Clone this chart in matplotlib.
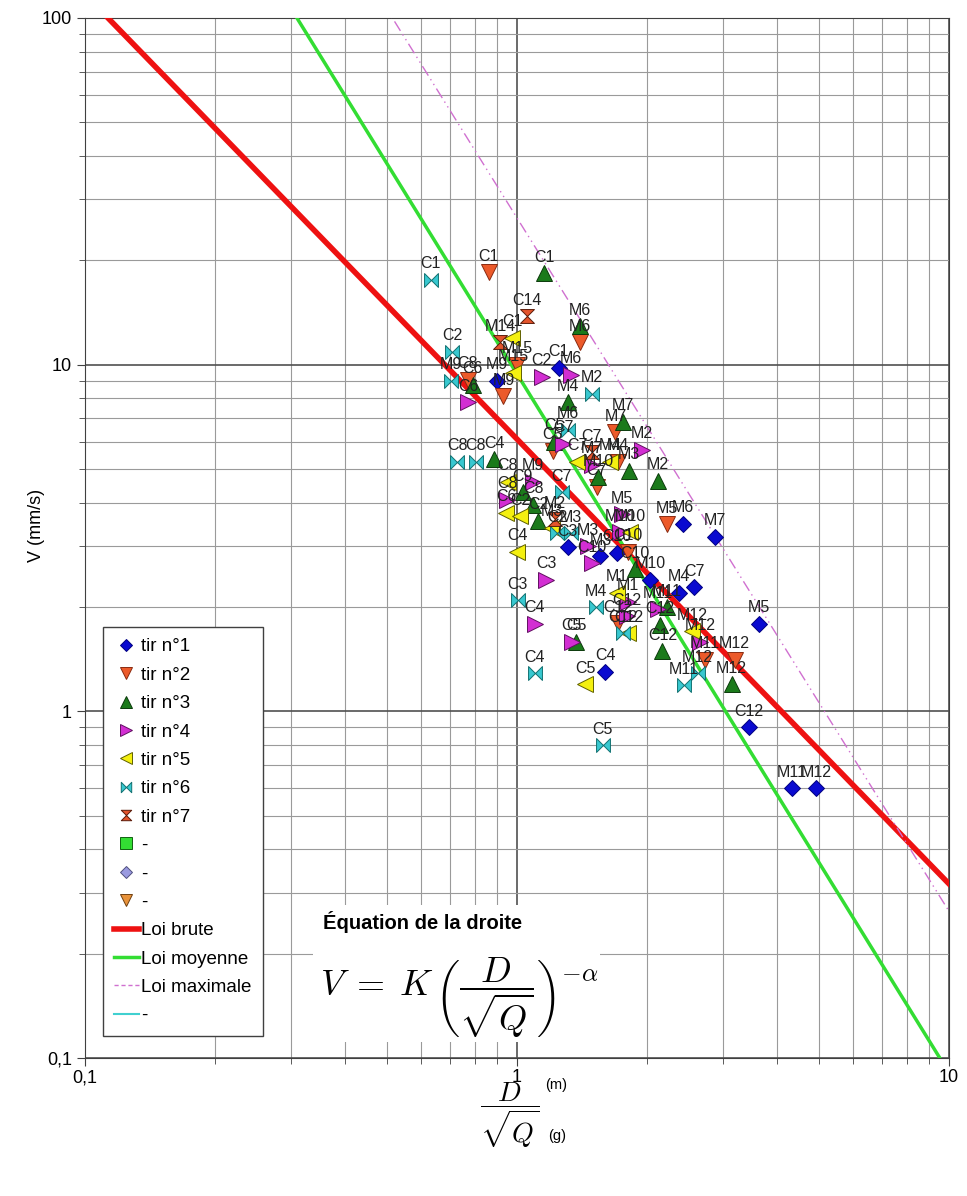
import matplotlib
matplotlib.use("Agg")
import matplotlib.pyplot as plt
import numpy as np
from matplotlib.path import Path
from matplotlib.lines import Line2D
from matplotlib.patches import Rectangle
from matplotlib.ticker import FixedLocator, FuncFormatter, LogLocator, NullFormatter

plt.rcParams['font.family'] = ['Liberation Sans', 'DejaVu Sans']
plt.rcParams['mathtext.fontset'] = 'cm'

# tir n°1 .. n°7 : distance réduite D/sqrt(Q) (m/g^0.5) et vitesse V (mm/s)
x1 = [1.25, 0.90, 1.31, 1.56, 1.70, 2.03, 2.37, 2.57, 2.42, 2.87, 3.63, 1.60, 3.44, 4.33, 4.92]
y1 = [9.8, 9.0, 2.97, 2.80, 2.87, 2.40, 2.20, 2.28, 3.48, 3.19, 1.79, 1.30, 0.90, 0.60, 0.60]
l1 = ['C1', 'M9', 'C3', 'M3', 'C10', 'M10', 'M4', 'C7', 'M6', 'M7', 'M5', 'C4', 'C12', 'M11', 'M12']

x2 = [0.86, 1.40, 0.77, 0.93, 1.00, 1.21, 1.69, 1.71, 1.53, 2.22, 1.81, 1.71, 2.72, 3.19]
y2 = [18.5, 11.6, 9.05, 8.1, 10.0, 5.65, 6.4, 5.25, 4.45, 3.46, 2.89, 1.80, 1.41, 1.41]
l2 = ['C1', 'M6', 'C8', 'M9', 'M15', 'C5', 'M7', 'M4', 'C7', 'M5', 'C10', 'C12', 'M11', 'M12']

x3 = [1.155, 1.40, 1.31, 1.76, 1.22, 0.885, 1.815, 2.12, 1.03, 1.09, 1.12, 1.875,
      2.22, 2.14, 2.17, 3.14, 1.37, 0.79, 1.54]
y3 = [18.4, 12.9, 7.8, 6.85, 6.0, 5.33, 4.95, 4.63, 4.28, 3.95, 3.55, 2.57,
      2.0, 1.78, 1.49, 1.20, 1.59, 8.76, 4.73]
l3 = ['C1', 'M6', 'M4', 'M7', 'C5', 'C4', 'M3', 'M2', 'C9', 'C8', 'C2', 'C10',
      'M11', 'C12', 'C12', 'M12', 'C5', 'C6', 'M10']

x4 = [0.77, 1.14, 1.33, 1.28, 1.95, 1.09, 0.95, 1.49, 1.75, 1.73, 1.46, 1.49,
      1.17, 1.10, 1.81, 1.80, 2.12, 2.65, 1.34]
y4 = [7.8, 9.24, 9.36, 5.92, 5.69, 4.6, 4.08, 5.15, 3.7, 3.28, 2.99, 2.68,
      2.40, 1.79, 2.07, 1.88, 1.97, 1.59, 1.59]
l4 = ['C6', 'C2', 'M6', 'C7', 'M2', 'M9', 'C8', 'M7', 'M5', 'M10', 'M3', 'C10',
      'C3', 'C4', 'M1', 'C12', 'M11', 'M12', 'C5']

x5 = [0.974, 0.979, 1.377, 1.64, 0.953, 0.943, 1.016, 1.205, 1.0, 1.70, 1.81, 2.54, 1.437, 1.83]
y5 = [11.96, 9.48, 5.25, 5.25, 4.6, 3.74, 3.65, 3.39, 2.89, 2.2, 1.68, 1.70, 1.20, 3.28]
l5 = ['C1', 'M15', 'C7', 'M4', 'C8', 'C6', 'C2', 'M3', 'C4', 'M1', 'C12', 'M12', 'C5', 'M10']

x6 = [0.632, 0.707, 0.703, 1.49, 1.313, 0.727, 0.803, 1.27, 1.237, 1.33, 1.005,
      1.524, 1.76, 1.10, 1.58, 2.43, 2.62]
y6 = [17.6, 10.9, 9.0, 8.25, 6.5, 5.25, 5.25, 4.28, 3.27, 3.27, 2.09,
      2.0, 1.68, 1.29, 0.80, 1.19, 1.29]
l6 = ['C1', 'C2', 'M9', 'M2', 'M6', 'C8', 'C8', 'C7', 'C2', 'M3', 'C3',
      'M4', 'C12', 'C4', 'C5', 'M11', 'M12']

x7 = [1.055, 0.913, 1.49, 1.225]
y7 = [13.8, 11.6, 5.6, 3.58]
l7 = ['C14', 'M14', 'C7', 'M2']

# lois V = K (D/sqrt(Q))^-alpha
K_brute, a_brute = 6.1, 1.283
K_moy, a_moy = 9.4, 2.016
K_max, a_max = 26.5, 2.0

bowtie = Path([(-1, -1), (-1, 1), (1, -1), (1, 1), (-1, -1)],
              [Path.MOVETO, Path.LINETO, Path.LINETO, Path.LINETO, Path.CLOSEPOLY])
hourglass = Path([(-1, 1), (1, 1), (-1, -1), (1, -1), (-1, 1)],
                 [Path.MOVETO, Path.LINETO, Path.LINETO, Path.LINETO, Path.CLOSEPOLY])

series = [
    ('tir n°1', x1, y1, l1, 'D', '#0a0ad0', '#000080', 8.5),
    ('tir n°2', x2, y2, l2, 'v', '#ec5a2a', '#8a2a10', 11),
    ('tir n°3', x3, y3, l3, '^', '#1b7a1b', '#0b3a0b', 11),
    ('tir n°4', x4, y4, l4, '>', '#d22ed2', '#601060', 11),
    ('tir n°5', x5, y5, l5, '<', '#f4f010', '#606000', 11),
    ('tir n°6', x6, y6, l6, bowtie, '#38c8d0', '#107070', 10),
    ('tir n°7', x7, y7, l7, hourglass, '#e4542c', '#5a1a08', 10),
]

fig = plt.figure(figsize=(9.67, 11.96), dpi=100)
ax = fig.add_axes([85 / 967, 1 - 1058 / 1196, 864 / 967, 1040 / 1196])
ax.set_xscale('log')
ax.set_yscale('log')
ax.set_xlim(0.1, 10)
ax.set_ylim(0.1, 100)
ax.set_axisbelow(True)

ax.grid(True, which='major', color='#505050', lw=1.2)
ax.grid(True, which='minor', color='#9a9a9a', lw=0.8)
ax.xaxis.set_minor_locator(LogLocator(base=10, subs=np.arange(2, 10)))
ax.yaxis.set_minor_locator(LogLocator(base=10, subs=np.arange(2, 10)))
ax.xaxis.set_minor_formatter(NullFormatter())
ax.yaxis.set_minor_formatter(NullFormatter())
fmt = FuncFormatter(lambda v, p: ('%g' % v).replace('.', ','))
ax.xaxis.set_major_locator(FixedLocator([0.1, 1, 10]))
ax.yaxis.set_major_locator(FixedLocator([0.1, 1, 10, 100]))
ax.xaxis.set_major_formatter(fmt)
ax.yaxis.set_major_formatter(fmt)
ax.tick_params(which='both', direction='out', labelsize=13, color='#404040')
ax.tick_params(which='major', length=6)
ax.tick_params(which='minor', length=4)
ax.tick_params(axis='x', pad=2)
for s in ax.spines.values():
    s.set_color('#404040')

xs = np.array([0.1, 10.0])
ax.plot(xs, K_brute * xs ** -a_brute, color='#ee1111', lw=4, zorder=3)
ax.plot(xs, K_moy * xs ** -a_moy, color='#33dd33', lw=2.5, zorder=3)
ax.plot(xs, K_max * xs ** -a_max, color='#d070d0', lw=1, ls=(0, (8, 3, 1, 3, 1, 3)), zorder=3)

handles = []
for name, xv, yv, lab, mk, fc, ec, ms in series:
    ax.plot(xv, yv, ls='none', marker=mk, ms=ms, mfc=fc, mec=ec, mew=0.7, zorder=4)
    for xx, yy, tt in zip(xv, yv, lab):
        ax.annotate(tt, (xx, yy), xytext=(0, 6), textcoords='offset points',
                    ha='center', va='bottom', fontsize=11.5, color='#222222', zorder=5)
    handles.append(Line2D([], [], ls='none', marker=mk, ms=ms * 0.75, mfc=fc, mec=ec,
                          mew=0.7, label=name))

handles += [
    Line2D([], [], ls='none', marker='s', ms=8, mfc='#33dd33', mec='#106010', mew=0.7, label='-'),
    Line2D([], [], ls='none', marker='D', ms=6.5, mfc='#9a9ae0', mec='#505080', mew=0.7, label='-'),
    Line2D([], [], ls='none', marker='v', ms=8, mfc='#e8923a', mec='#704010', mew=0.7, label='-'),
    Line2D([], [], color='#ee1111', lw=4, label='Loi brute'),
    Line2D([], [], color='#33dd33', lw=2.5, label='Loi moyenne'),
    Line2D([], [], color='#d070d0', lw=1, ls=(0, (3, 2)), label='Loi maximale'),
    Line2D([], [], color='#40d0d0', lw=1.5, label='-'),
]
leg = ax.legend(handles=handles, loc='upper left', bbox_to_anchor=(0.0208, 0.4144),
                fontsize=13.5, frameon=True, fancybox=False, framealpha=1,
                edgecolor='#404040', handlelength=1.3, handletextpad=0.15,
                labelspacing=0.6, borderpad=0.6, borderaxespad=0)
leg.get_frame().set_linewidth(1.0)
leg.set_zorder(6)

ax.add_patch(Rectangle((0.2639, 0.0154), 0.332, 0.132, transform=ax.transAxes,
                       facecolor='white', edgecolor='none', zorder=1))
ax.text(0.2755, 0.1308, 'Équation de la droite', transform=ax.transAxes,
        fontsize=14.5, fontweight='bold', ha='left', va='center', zorder=6)
ax.text(0.272, 0.058, r'$V\;=\;K\,\left(\dfrac{D}{\sqrt{Q}}\right)^{-\alpha}$',
        transform=ax.transAxes, fontsize=26, ha='left', va='center', zorder=6)

ax.set_ylabel('V (mm/s)', fontsize=13)
ax.yaxis.set_label_coords(-0.046, 0.5125)
fig.text(510 / 967, 1 - 1115 / 1196, r'$\dfrac{D}{\sqrt{Q}}$', fontsize=20,
         ha='center', va='center')
fig.text(545 / 967, 1 - 1085 / 1196, '(m)', fontsize=10.5, ha='left', va='center')
fig.text(548 / 967, 1 - 1136 / 1196, '(g)', fontsize=10.5, ha='left', va='center')

fig.savefig('out.png', dpi=100)
